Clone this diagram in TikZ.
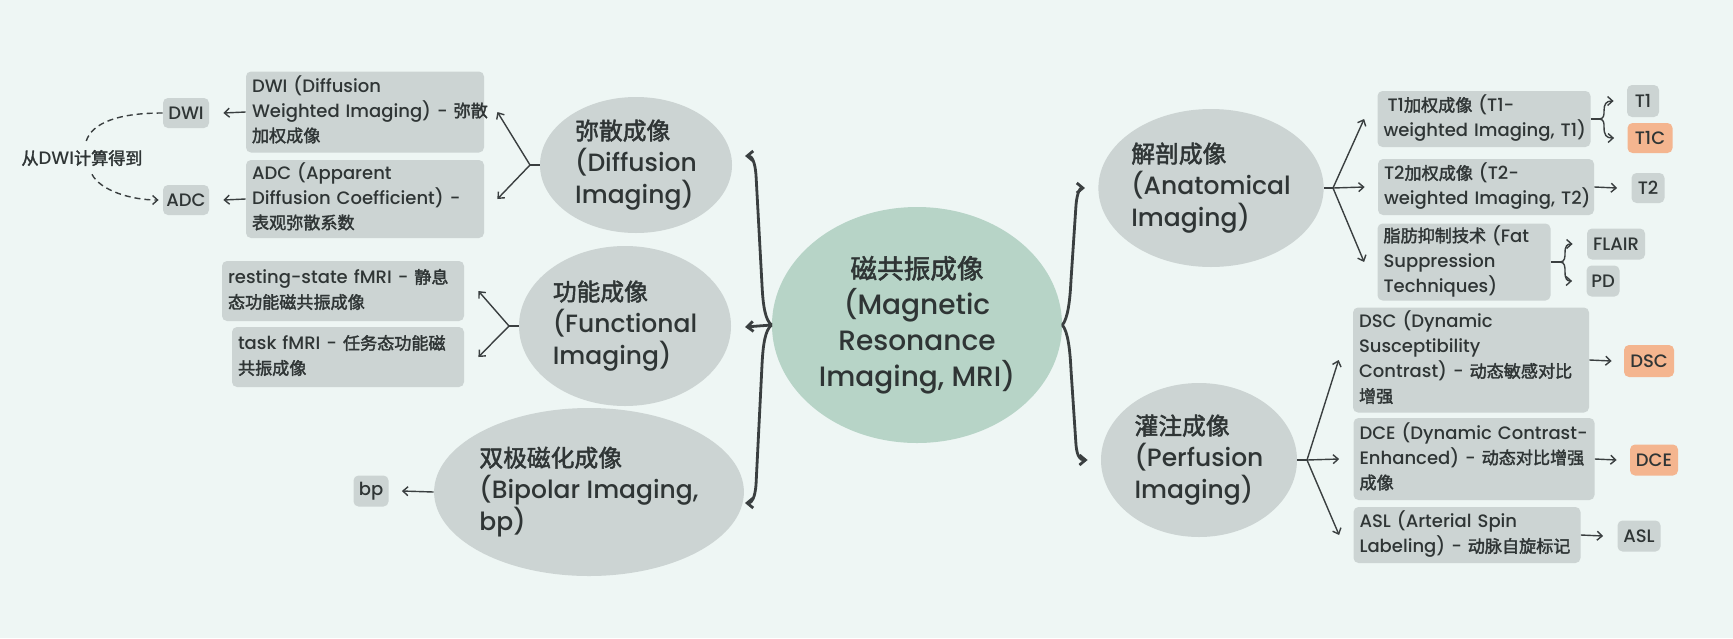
\documentclass[tikz,border=0pt]{standalone}
\usepackage{fontspec}
\setmainfont{Poppins}[UprightFont=* Medium]
\newfontfamily\cjk{Noto Sans CJK SC}[Scale=0.95,FakeBold=2]
\newcommand\zhs[1]{{\cjk #1}}
\newcommand\lns[1]{\begin{tabular}{@{}l@{}}#1\end{tabular}}
\newcommand\bxf{\fontsize{9pt}{12.5pt}\selectfont}
\newcommand\ovf{\fontsize{12.5pt}{16pt}\selectfont}
\newcommand\cnf{\fontsize{14pt}{18pt}\selectfont}
\usetikzlibrary{shapes.geometric,arrows.meta}
\definecolor{bg}{HTML}{EEF6F4}
\definecolor{gr}{HTML}{CCD4D3}
\definecolor{gn}{HTML}{B7D4C7}
\definecolor{og}{HTML}{F4B58F}
\definecolor{tx}{HTML}{2F3535}
\definecolor{ln}{HTML}{3A3F40}
\tikzset{
  box/.style={fill=gr, rounded corners=2.5pt, inner xsep=3pt, inner ysep=0pt, align=left, text=tx, font=\bxf},
  sbox/.style={fill=gr, rounded corners=2.5pt, inner sep=0pt, text=tx, font=\bxf},
  oval/.style={ellipse, fill=gr, inner sep=0pt, text=tx, align=left, font=\ovf},
  lnk/.style={draw=ln, line width=0.7pt},
  arr/.style={draw=ln, line width=0.7pt, -{Straight Barb[length=2.5pt,width=4.5pt]}},
  brace/.style={draw=ln, line width=1.4pt, line join=round, -{Straight Barb[length=3pt,width=5pt]}},
  dsh/.style={dash pattern=on 3pt off 2pt}
}
\begin{document}
\begin{tikzpicture}[x=0.5pt,y=-0.5pt]
\fill[bg] (0,0) rectangle (1733,638);
\useasboundingbox (0,0) rectangle (1733,638);

% central
\node[oval, fill=gn, align=center, font=\cnf, minimum width=145pt, minimum height=118pt] (mri) at (917,325)
  {\zhs{磁共振成像}\\(Magnetic\\Resonance\\Imaging, MRI)};

% left ovals
\node[oval, minimum width=96pt, minimum height=68pt] (diff) at (636,165) {\zhs{弥散成像}\\(Diffusion\\Imaging)};
\node[oval, minimum width=106pt, minimum height=80pt] (func) at (625,326) {\zhs{功能成像}\\(Functional\\Imaging)};
\node[oval, minimum width=144pt, minimum height=84pt] (bip) at (589,492) {\zhs{双极磁化成像}\\(Bipolar Imaging,\\bp)};

% right ovals
\node[oval, minimum width=110pt, minimum height=79pt] (anat) at (1211,188) {\zhs{解剖成像}\\(Anatomical\\Imaging)};
\node[oval, minimum width=98pt, minimum height=77pt] (perf) at (1199,460) {\zhs{灌注成像}\\(Perfusion\\Imaging)};

% diffusion children
\node[box, text width=113pt, minimum height=40.5pt] (dwiL) at (365,112)
  {\lns{DWI (Diffusion\\Weighted Imaging) - \zhs{弥散}\\\zhs{加权成像}}};
\node[box, text width=113pt, minimum height=39pt] (adcL) at (365,199)
  {\lns{ADC (Apparent\\Diffusion Coefficient) -\\\zhs{表观弥散系数}}};
\node[sbox, minimum width=23pt, minimum height=15pt] (dwiS) at (186,113) {DWI};
\node[sbox, minimum width=23pt, minimum height=15pt] (adcS) at (186,200) {ADC};
\node[font=\bxf, text=tx, inner sep=1pt] (lbl) at (82,158) {\zhs{从}DWI\zhs{计算得到}};

% functional children
\node[box, text width=115pt, minimum height=30pt] (rest) at (343,291)
  {\lns{resting-state fMRI - \zhs{静息}\\\zhs{态功能磁共振成像}}};
\node[box, text width=110pt, minimum height=30pt] (task) at (348,357)
  {\lns{task fMRI - \zhs{任务态功能磁}\\\zhs{共振成像}}};

% bipolar child
\node[sbox, minimum width=17.5pt, minimum height=15.5pt] (bp) at (371,491) {bp};

% anatomical children
\node[box, text width=100.5pt, minimum height=28pt] (t1L) at (1484,119)
  {\lns{\hspace{2pt}T1\zhs{加权成像} (T1-\\weighted Imaging, T1)}};
\node[box, text width=102pt, minimum height=28pt] (t2L) at (1486,187)
  {\lns{T2\zhs{加权成像} (T2-\\weighted Imaging, T2)}};
\node[box, text width=80.5pt, minimum height=38.5pt] (fat) at (1464,262)
  {\lns{\zhs{脂肪抑制技术} (Fat\\Suppression\\Techniques)}};
\node[sbox, minimum width=16pt, minimum height=16pt] (t1S) at (1643,101) {T1};
\node[sbox, fill=og, minimum width=22.5pt, minimum height=15pt] (t1c) at (1650,138) {T1C};
\node[sbox, minimum width=16.5pt, minimum height=15pt] (t2S) at (1648,188) {T2};
\node[sbox, minimum width=29pt, minimum height=15.5pt] (flair) at (1616,244) {FLAIR};
\node[sbox, minimum width=16.5pt, minimum height=15.5pt] (pd) at (1603,281) {PD};

% perfusion children
\node[box, text width=112pt, minimum height=52.5pt] (dscL) at (1471,360)
  {\lns{DSC (Dynamic\\Susceptibility\\Contrast) - \zhs{动态敏感对比}\\\zhs{增强}}};
\node[box, text width=114.5pt, minimum height=41pt] (dceL) at (1474,459)
  {\lns{DCE (Dynamic Contrast-\\Enhanced) - \zhs{动态对比增强}\\\zhs{成像}}};
\node[box, text width=107.5pt, minimum height=28pt] (aslL) at (1467,535)
  {\lns{ASL (Arterial Spin\\Labeling) - \zhs{动脉自旋标记}}};
\node[sbox, fill=og, minimum width=25pt, minimum height=16pt] (dscS) at (1649,361) {DSC};
\node[sbox, fill=og, minimum width=24pt, minimum height=15.5pt] (dceS) at (1654,460) {DCE};
\node[sbox, minimum width=21.5pt, minimum height=15.5pt] (aslS) at (1639,536) {ASL};

% coordinates
\coordinate (fD) at (530,165);
\coordinate (fF) at (509,326);
\coordinate (fA) at (1333,188);
\coordinate (fP) at (1307,460);
\coordinate (sT1) at (1599,119);
\coordinate (sF) at (1560,262);
\coordinate (bl1) at (745,156);
\coordinate (bl2) at (745,327);
\coordinate (bl3) at (745,503);

% big braces
\draw[brace] (mri.west) .. controls (765,320) and (763,305) .. (762,285) -- (756,175) .. controls (755,162) and (752,156) .. (bl1);
\draw[brace] (mri.west) -- (bl2);
\draw[brace] (mri.west) .. controls (765,330) and (763,345) .. (762,365) -- (756,485) .. controls (755,497) and (752,503) .. (bl3);
\draw[brace] (mri.east) .. controls (1068,318) and (1070,300) .. (1071,280) -- (1076,205) .. controls (1077,193) and (1080,188) .. ([xshift=-6.5pt]anat.west);
\draw[brace] (mri.east) .. controls (1068,332) and (1070,350) .. (1071,370) -- (1076,445) .. controls (1077,456) and (1080,460) .. ([xshift=-6.5pt]perf.west);

% diffusion fork
\draw[lnk] (diff.west) -- (fD);
\draw[arr] (fD) -- ([xshift=6.5pt]dwiL.east);
\draw[arr] (fD) -- ([xshift=6.5pt]adcL.east);
\draw[arr] (dwiL.west) -- ([xshift=7pt]dwiS.east);
\draw[arr] (adcL.west) -- ([xshift=7pt]adcS.east);
\draw[lnk, dsh] (dwiS.west) .. controls (120,113) and (92,122) .. ([shift={(2pt,3pt)}]lbl.north);
\draw[arr, dsh, shorten >=2pt] ([shift={(5pt,-3pt)}]lbl.south) .. controls (100,190) and (130,200) .. (adcS.west);

% functional fork
\draw[lnk] (func.west) -- (fF);
\draw[arr] (fF) -- ([xshift=7pt]rest.east);
\draw[arr] (fF) -- ([xshift=7pt]task.east);

% bipolar
\draw[arr] (bip.west) -- ([xshift=6.5pt]bp.east);

% anatomical fork
\draw[lnk] (anat.east) -- (fA);
\draw[arr] (fA) -- ([xshift=-6.5pt]t1L.west);
\draw[arr] (fA) -- ([xshift=-6.5pt]t2L.west);
\draw[arr] (fA) -- ([xshift=-6.5pt]fat.west);
\draw[lnk] (t1L.east) -- (sT1);
\draw[arr] (sT1) .. controls (1604,119) and (1604,115) .. (1604,111) .. controls (1604,104) and (1606,101) .. ([xshift=-6.5pt]t1S.west);
\draw[arr] (sT1) .. controls (1604,119) and (1604,123) .. (1604,127) .. controls (1604,135) and (1606,138) .. ([xshift=-6.5pt]t1c.west);
\draw[arr] (t2L.east) -- ([xshift=-7pt]t2S.west);
\draw[lnk] (fat.east) -- (sF);
\draw[arr] (sF) .. controls (1565,262) and (1565,257) .. (1565,253) .. controls (1565,246) and (1567,244) .. ([xshift=-7pt]flair.west);
\draw[arr] (sF) .. controls (1565,262) and (1565,267) .. (1565,272) .. controls (1565,279) and (1567,281) .. ([xshift=-7pt]pd.west);

% perfusion fork
\draw[lnk] (perf.east) -- (fP);
\draw[arr] (fP) -- ([xshift=-7pt]dscL.west);
\draw[arr] (fP) -- ([xshift=-7pt]dceL.west);
\draw[arr] (fP) -- ([xshift=-7pt]aslL.west);
\draw[arr] (dscL.east) -- ([xshift=-6pt]dscS.west);
\draw[arr] (dceL.east) -- ([xshift=-6.5pt]dceS.west);
\draw[arr] (aslL.east) -- ([xshift=-7pt]aslS.west);
\end{tikzpicture}
\end{document}
